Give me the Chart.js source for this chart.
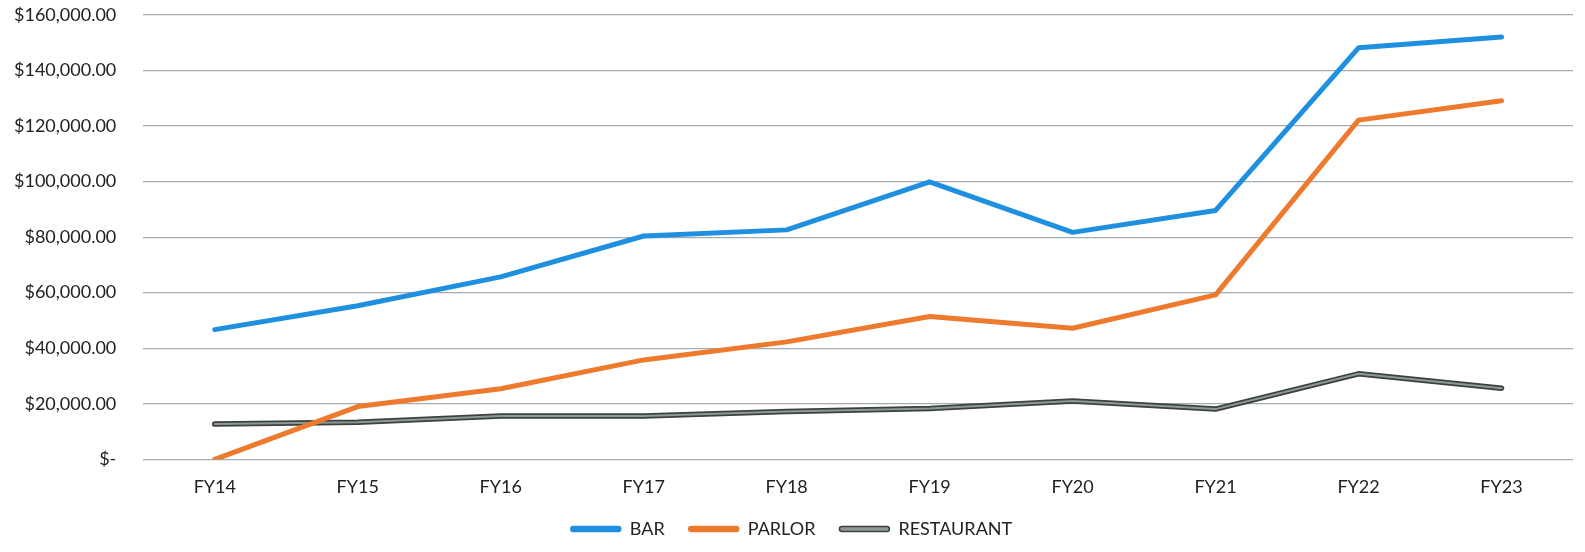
<!DOCTYPE html>
<html>
<head>
<meta charset="utf-8">
<script src="https://cdn.jsdelivr.net/npm/chart.js@4/dist/chart.umd.min.js"></script>
<style>
  html, body { margin: 0; padding: 0; background: #fff; }
  #wrap { width: 1585px; height: 552px; }
</style>
</head>
<body>
<div id="wrap"><canvas id="myChart"></canvas></div>
<script>
let years = ['FY14', 'FY15', 'FY16', 'FY17', 'FY18', 'FY19', 'FY20', 'FY21', 'FY22', 'FY23'];
let bar = [46700, 55300, 65700, 80400, 82600, 99900, 81700, 89600, 148100, 152000];
let parlor = [0, 19000, 25400, 35800, 42300, 51400, 47200, 59200, 122100, 129100];
let restaurant = [12700, 13400, 15600, 15600, 17200, 18300, 21000, 18100, 30800, 25600];

let fontFamily = 'Lato, "Open Sans", sans-serif';

// thin light stroke drawn inside the restaurant line so it looks outlined
let innerStroke = {
    id: 'innerStroke',
    afterDatasetDraw(chart, args) {
        let ds = chart.data.datasets[args.index];
        if (!ds.innerColor) return;
        let pts = args.meta.data;
        let ctx = chart.ctx;
        ctx.save();
        ctx.strokeStyle = ds.innerColor;
        ctx.lineWidth = 2;
        ctx.lineJoin = 'round';
        ctx.lineCap = 'round';
        ctx.beginPath();
        pts.forEach((p, i) => i ? ctx.lineTo(p.x, p.y) : ctx.moveTo(p.x, p.y));
        ctx.stroke();
        ctx.restore();
    }
};

let chart = new Chart(document.getElementById('myChart').getContext('2d'), {
    type: 'line',
    data: {
        labels: years,
        datasets: [
            { label: 'BAR', data: bar, borderColor: '#1f8fe0', backgroundColor: '#1f8fe0', borderWidth: 5 },
            { label: 'PARLOR', data: parlor, borderColor: '#ee7a2e', backgroundColor: '#ee7a2e', borderWidth: 5 },
            { label: 'RESTAURANT', data: restaurant, borderColor: '#3c423f', backgroundColor: '#8e9992', innerColor: '#8e9992', borderWidth: 5.5 }
        ]
    },
    plugins: [innerStroke],
    options: {
        responsive: true,
        maintainAspectRatio: false,
        animation: false,
        layout: { padding: { top: 0, right: 12, left: 10, bottom: 4 } },
        elements: {
            point: { radius: 0 },
            line: { tension: 0, borderCapStyle: 'round', borderJoinStyle: 'round' }
        },
        scales: {
            x: {
                offset: true,
                grid: { display: false },
                border: { display: false },
                ticks: { color: '#222', padding: 9, font: { family: fontFamily, size: 18 } },
                afterFit(scale) { scale.height -= 11; }
            },
            y: {
                min: 0,
                max: 160000,
                // invisible tick marks keep the labels away from the plot
                grid: { color: '#a3adb0', lineWidth: 1.2, drawTicks: true, tickLength: 23, tickColor: 'rgba(0,0,0,0)' },
                border: { display: false },
                ticks: {
                    stepSize: 20000,
                    color: '#222',
                    padding: 4,
                    font: { family: fontFamily, size: 18 },
                    callback: v => v === 0 ? '$-' : '$' + v.toLocaleString('en-US', { minimumFractionDigits: 2 })
                }
            }
        },
        plugins: {
            legend: {
                position: 'bottom',
                labels: {
                    color: '#222',
                    boxWidth: 50,
                    boxHeight: 5,
                    padding: 24,
                    font: { family: fontFamily, size: 18 },
                    generateLabels(c) {
                        return Chart.defaults.plugins.legend.labels.generateLabels(c).map(l => {
                            l.lineWidth = 1.5;
                            l.borderRadius = 2.5;
                            return l;
                        });
                    },
                    useBorderRadius: true
                }
            },
            tooltip: { enabled: false }
        }
    }
});
</script>
</body>
</html>
